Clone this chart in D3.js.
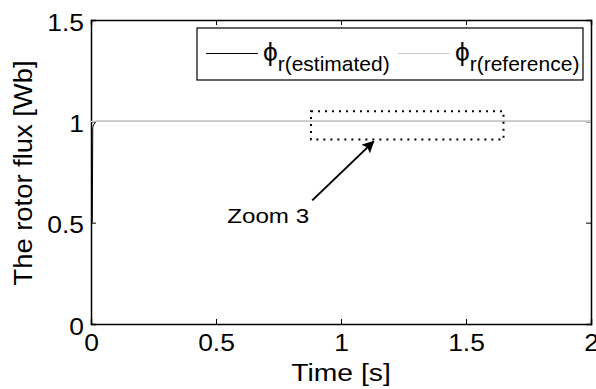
<!DOCTYPE html>
<html>
<head>
<meta charset="utf-8">
<script src="https://cdn.jsdelivr.net/npm/d3@7"></script>
<style>
  body { margin: 0; background: #fff; }
  svg text { font-family: "Liberation Sans", Arial, sans-serif; fill: #000; }
</style>
</head>
<body>
<div id="chart"></div>
<script>
// Data
const timeEst = [0.005, 0.007, 0.01, 0.02, 2];
const fluxEst = [0.5, 0.97, 0.982, 1.0, 1.0];
const timeRef = [0, 2];
const fluxRef = [1, 1];
const xTicks = [0, 0.5, 1, 1.5, 2];
const yTicks = [0, 0.5, 1, 1.5];
const legendLabels = ["r(estimated)", "r(reference)"];
const zoomBox = { t0: 0.88, t1: 1.65, f0: 0.91, f1: 1.05 };

const W = 596, H = 389;
const margin = { top: 20, right: 5, bottom: 65, left: 91 };
const width = W - margin.left - margin.right;
const height = H - margin.top - margin.bottom;
const sx = 1.1; // text in the original is a bit wider than tall

const svgRoot = d3.select("#chart").append("svg")
    .attr("width", W).attr("height", H);

const defs = svgRoot.append("defs");
defs.append("marker")
    .attr("id", "arrow")
    .attr("viewBox", "0 0 10 10")
    .attr("refX", 9).attr("refY", 5)
    .attr("markerWidth", 6).attr("markerHeight", 6)
    .attr("markerUnits", "strokeWidth")
    .attr("orient", "auto")
    .append("path")
    .attr("d", "M0,0 L10,5 L0,10 L2,5 z")
    .attr("fill", "#000");

const svg = svgRoot.append("g")
    .attr("transform", `translate(${margin.left},${margin.top})`);

const x = d3.scaleLinear().domain([0, 2]).range([0, width]);
const y = d3.scaleLinear().domain([0, 1.5]).range([height, 0]);

// Axes (inward ticks, MATLAB style)
const xAxis = svg.append("g")
    .attr("transform", `translate(0,${height})`)
    .call(d3.axisBottom(x).tickValues(xTicks).tickSize(-5).tickPadding(10).tickFormat(d3.format("")));
xAxis.selectAll("text")
    .style("font-size", "24px")
    .attr("dy", "0.71em")
    .attr("transform", `scale(${sx},1)`);

const yAxis = svg.append("g")
    .call(d3.axisLeft(y).tickValues(yTicks).tickSize(-5).tickFormat(d3.format("")));
yAxis.selectAll("text")
    .style("font-size", "24px")
    .attr("x", -7 / sx)
    .attr("dy", "0.42em")
    .attr("transform", `scale(${sx},1)`);

svg.append("g")
    .call(d3.axisTop(x).tickValues(xTicks).tickSize(-5).tickFormat(""));
svg.append("g")
    .attr("transform", `translate(${width},0)`)
    .call(d3.axisRight(y).tickValues(yTicks).tickSize(-5).tickFormat(""));

svg.selectAll(".domain").attr("stroke", "#000").attr("stroke-width", 1.5);
svg.selectAll(".tick line").attr("stroke", "#000");

// Lines
const line = d3.line().x(d => x(d[0])).y(d => y(d[1]));
svg.append("path")
    .datum(timeEst.map((t, i) => [t, fluxEst[i]]))
    .attr("fill", "none").attr("stroke", "#000").attr("stroke-width", 1)
    .attr("d", line);
svg.append("path")
    .datum(timeRef.map((t, i) => [t, fluxRef[i]]))
    .attr("fill", "none").attr("stroke", "#c8c8c4").attr("stroke-width", 1.2)
    .attr("d", line);

// Zoom box and arrow
svg.append("rect")
    .attr("x", x(zoomBox.t0)).attr("y", y(zoomBox.f1))
    .attr("width", x(zoomBox.t1) - x(zoomBox.t0))
    .attr("height", y(zoomBox.f0) - y(zoomBox.f1))
    .attr("fill", "none").attr("stroke", "#000")
    .attr("stroke-width", 2).attr("stroke-dasharray", "2,5");

svg.append("line")
    .attr("x1", x(0.885)).attr("y1", y(0.61))
    .attr("x2", x(1.13)).attr("y2", y(0.9))
    .attr("stroke", "#000").attr("stroke-width", 2)
    .attr("marker-end", "url(#arrow)");

svg.append("text")
    .attr("transform", `translate(${x(0.545)},${y(0.5)}) scale(1.15,1)`)
    .style("font-size", "21px")
    .text("Zoom 3");

// Legend
const legend = svg.append("g").attr("transform", `translate(${106},${8})`);
legend.append("rect")
    .attr("width", 386).attr("height", 52)
    .attr("fill", "#fff").attr("stroke", "#000").attr("stroke-width", 1.2);

const legendColors = ["#000", "#c8c8c4"];
const itemX = [9, 201];
legendLabels.forEach((lab, i) => {
    legend.append("line")
        .attr("x1", itemX[i]).attr("x2", itemX[i] + 52)
        .attr("y1", 25.5).attr("y2", 25.5)
        .attr("stroke", legendColors[i]).attr("stroke-width", 1);
    const t = legend.append("text")
        .attr("transform", `translate(${itemX[i] + 57},${33}) scale(1.05,1)`)
        .style("font-size", "25px");
    t.append("tspan").text("ϕ");
    t.append("tspan").attr("dy", 10).style("font-size", "20px").text(lab);
});

// Axis labels
svgRoot.append("text")
    .attr("transform", `translate(${margin.left + x(1)},${381}) scale(1.23,1)`)
    .attr("text-anchor", "middle")
    .style("font-size", "23px")
    .text("Time [s]");

svgRoot.append("text")
    .attr("transform", `translate(${32},${173}) rotate(-90) scale(1.14,1.05)`)
    .attr("text-anchor", "middle")
    .style("font-size", "24px")
    .text("The rotor flux [Wb]");
</script>
</body>
</html>
